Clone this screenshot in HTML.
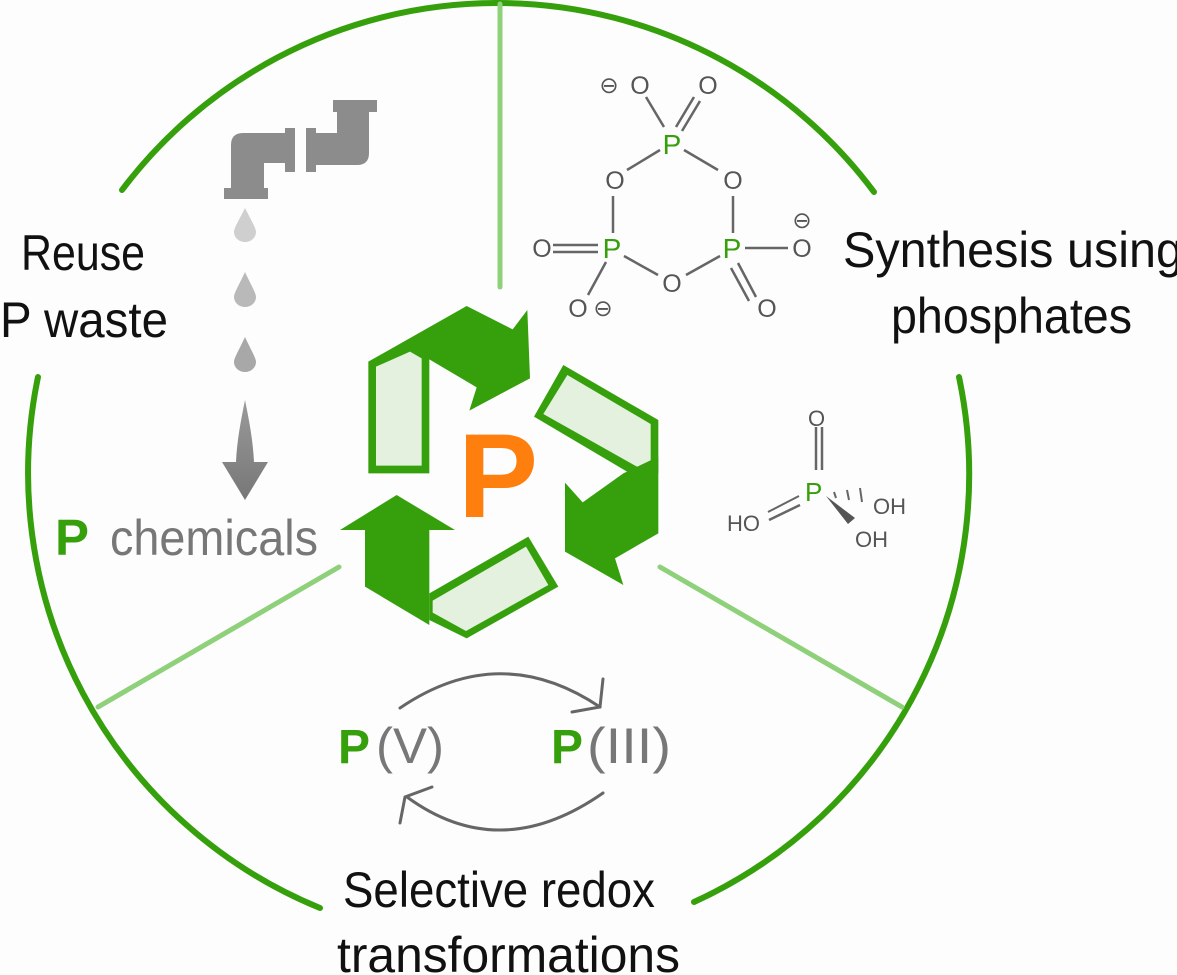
<!DOCTYPE html>
<html><head><meta charset="utf-8"><style>
html,body{margin:0;padding:0;background:#fdfdfd;}
svg{display:block;}
text{font-family:"Liberation Sans","DejaVu Sans",sans-serif;}
</style></head><body>
<svg width="1177" height="975" viewBox="0 0 1177 975" xmlns="http://www.w3.org/2000/svg">
<rect width="1177" height="975" fill="#fdfdfd"/>
<g fill="none" stroke="#36a00c" stroke-width="6" stroke-linecap="round">
<path d="M122,190 A470,470 0 0 1 874,192"/>
<path d="M38,377 A470,470 0 0 0 320,908"/>
<path d="M959,377 A470,470 0 0 1 694,902"/>
</g>
<g stroke="#8fd07a" stroke-width="5" stroke-linecap="round">
<line x1="500" y1="4" x2="500" y2="287"/>
<line x1="98" y1="707" x2="339" y2="567"/>
<line x1="660" y1="567" x2="902" y2="707"/>
</g>

<g fill="#8c8c8c">
<path d="M231,190 L231,145 Q231,133 243,133 L287,133 L287,163 L264,163 L264,190 Z"/>
<rect x="224" y="188" width="44" height="11"/>
<rect x="285" y="128" width="10" height="44"/>
<rect x="306" y="128" width="10" height="44"/>
<path d="M316,133 L337,133 L337,110 L369,110 L369,153 Q369,165 357,165 L316,165 Z"/>
<rect x="333" y="100" width="44" height="12"/>
</g>
<path d="M245,208 C251,220 256,228 256,232 A11,10 0 0 1 234,232 C234,228 239,220 245,208Z" fill="#cfcfcf"/>
<path d="M245,272 C251,285 256,293 256,297 A11,10 0 0 1 234,297 C234,293 239,285 245,272Z" fill="#b9b9b9"/>
<path d="M245,337 C251,350 256,358 256,362 A11,10 0 0 1 234,362 C234,358 239,350 245,337Z" fill="#a8a8a8"/>
<defs><linearGradient id="ag" x1="0" y1="0" x2="0" y2="1"><stop offset="0" stop-color="#9a9a9a"/><stop offset="1" stop-color="#777"/></linearGradient></defs>
<path d="M245,400 C249,420 253,440 254,462 L268,462 L245,500 L222,462 L236,462 C237,440 241,420 245,400Z" fill="url(#ag)"/>

<g transform="translate(330,300) scale(0.33333)">
<polygon points="115,185 410,18 548,88 592,30 600,235 418,332 440,262 298,178" fill="#36a00c"/>
<polygon points="115,185 245,140 298,170 298,520 115,520" fill="#36a00c"/>
<polygon points="138,200 240,155 275,175 275,497 138,497" fill="#e3f1de"/>
<polygon points="612,350 700,195 985,360 985,520 900,520" fill="#36a00c"/>
<polygon points="640,342 712,225 962,372 962,492 930,505" fill="#e3f1de"/>
<polygon points="880,520 985,470 985,700 855,775 880,855 705,755 705,548 758,607" fill="#36a00c"/>
<polygon points="30,690 200,585 375,690 298,690 298,975 105,860 105,690" fill="#36a00c"/>
<polygon points="298,880 595,710 685,860 410,1015 298,960" fill="#36a00c"/>
<polygon points="308,902 588,740 655,855 408,993 308,938" fill="#e3f1de"/>
</g>
<text x="498" y="517" font-size="120" font-weight="bold" fill="#ff7f0e" text-anchor="middle">P</text>

<text x="21" y="270" font-size="50" fill="#111" textLength="124" lengthAdjust="spacingAndGlyphs">Reuse</text>
<text x="0" y="337" font-size="50" fill="#111" textLength="168" lengthAdjust="spacingAndGlyphs">P  waste</text>
<text x="843" y="267" font-size="50" fill="#111" textLength="340" lengthAdjust="spacingAndGlyphs">Synthesis using</text>
<text x="891" y="333" font-size="50" fill="#111" textLength="241" lengthAdjust="spacingAndGlyphs">phosphates</text>
<text x="343" y="907" font-size="50" fill="#111" textLength="312" lengthAdjust="spacingAndGlyphs">Selective redox</text>
<text x="337" y="972" font-size="50" fill="#111" textLength="343" lengthAdjust="spacingAndGlyphs">transformations</text>
<text x="55" y="555" font-size="51" font-weight="bold" fill="#36a00c">P</text>
<text x="110" y="555" font-size="50" fill="#777" textLength="208" lengthAdjust="spacingAndGlyphs">chemicals</text>

<text x="338" y="763" font-size="48" font-weight="bold" fill="#36a00c">P</text>
<text x="376" y="763" font-size="50" fill="#777" textLength="68" lengthAdjust="spacingAndGlyphs">(V)</text>
<text x="551" y="763" font-size="48" font-weight="bold" fill="#36a00c">P</text>
<text x="587" y="763" font-size="50" fill="#777" textLength="84" lengthAdjust="spacingAndGlyphs">(III)</text>
<g fill="none" stroke="#666" stroke-width="3" stroke-linecap="round">
<path d="M400,708 Q500,640 600,707"/>
<path d="M603,679 L600,707 L572,712"/>
<path d="M603,793 Q500,865 407,797"/>
<path d="M432,787 L405,797 L400,823"/>
</g>

<g stroke="#666" stroke-width="2.5" fill="none">
<line x1="646" y1="97" x2="664" y2="127"/>
<line x1="676" y1="127" x2="694" y2="97"/>
<line x1="682" y1="131" x2="700" y2="101"/>
<line x1="660" y1="150" x2="627" y2="170"/>
<line x1="684" y1="150" x2="718" y2="170"/>
<line x1="613" y1="196" x2="613" y2="233"/>
<line x1="733" y1="196" x2="733" y2="233"/>
<line x1="553" y1="245" x2="598" y2="245"/>
<line x1="553" y1="252" x2="598" y2="252"/>
<line x1="624" y1="256" x2="658" y2="275"/>
<line x1="720" y1="256" x2="686" y2="275"/>
<line x1="606" y1="262" x2="588" y2="295"/>
<line x1="745" y1="248" x2="788" y2="248"/>
<line x1="738" y1="263" x2="756" y2="297"/>
<line x1="731" y1="268" x2="749" y2="301"/>
<line x1="800" y1="505" x2="769" y2="520"/>
<line x1="816" y1="427" x2="816" y2="470"/>
<line x1="822" y1="427" x2="822" y2="470"/>
</g>
<g font-size="25" fill="#555" text-anchor="middle">
<text x="640" y="94">O</text><text x="708" y="94">O</text>
<text x="615" y="189">O</text><text x="733" y="189">O</text>
<text x="542" y="257">O</text><text x="802" y="257">O</text>
<text x="672" y="292">O</text>
<text x="578" y="317">O</text><text x="767" y="317">O</text>
<text x="609" y="93" font-size="23">⊖</text>
<text x="603" y="316" font-size="23">⊖</text>
<text x="802" y="228" font-size="23">⊖</text>
</g>
<g font-size="28" fill="#36a00c" text-anchor="middle">
<text x="672" y="154">P</text><text x="612" y="258">P</text><text x="732" y="258">P</text>
</g>
<g font-size="22" fill="#555">
<text x="808" y="426">O</text>
<text x="727" y="531">HO</text>
<text x="873" y="514">OH</text>
<text x="855" y="547">OH</text>
</g>
<text x="805" y="501" font-size="26" fill="#36a00c">P</text>
<line x1="799" y1="496" x2="768" y2="512" stroke="#666" stroke-width="2"/>
<polygon points="826,496 848,524 855,518" fill="#555"/>
<g stroke="#666" stroke-width="2"><line x1="834" y1="492" x2="836" y2="498"/><line x1="847" y1="490" x2="849" y2="500"/><line x1="860" y1="488" x2="862" y2="502"/></g>
</svg>
</body></html>
